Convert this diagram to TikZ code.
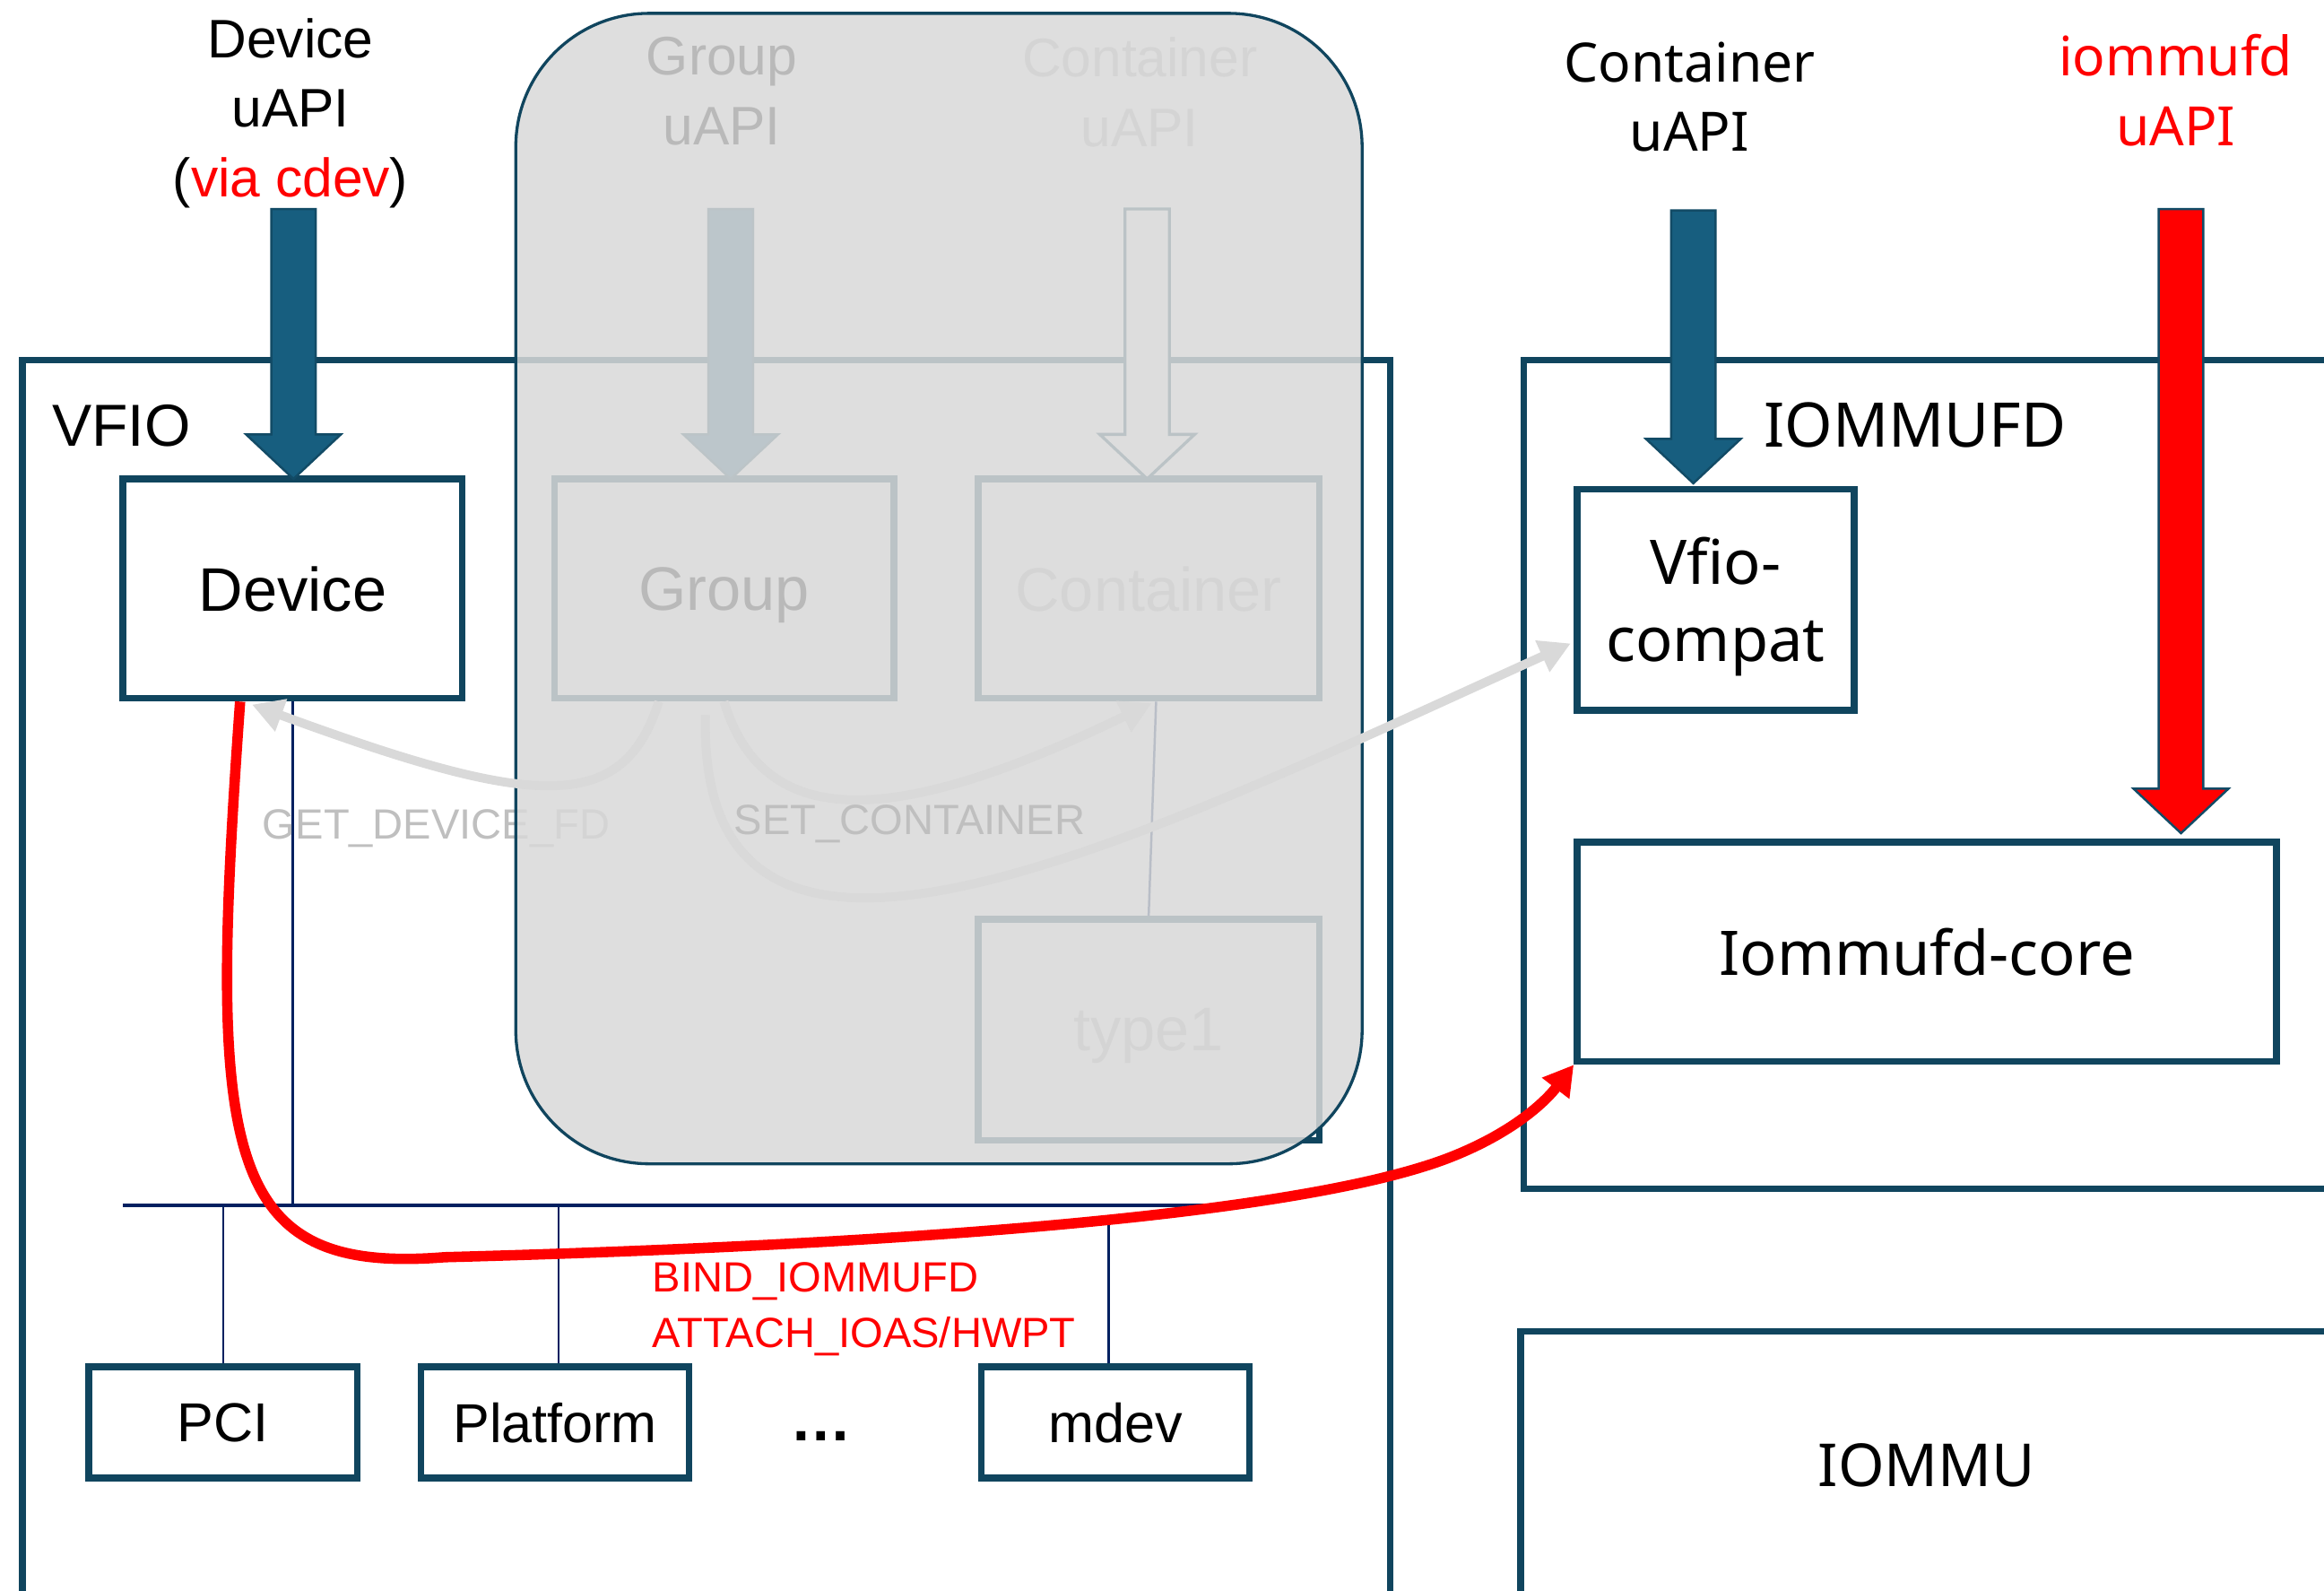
\documentclass[tikz,border=0pt]{standalone}
\usepackage{fontspec}
\setmainfont{Liberation Sans}
\newfontfamily\aptos{Noto Sans}
\usetikzlibrary{calc,arrows.meta}

\definecolor{vfioteal}{HTML}{10455E}
\definecolor{uapiteal}{HTML}{175E7F}
\definecolor{uapiedge}{HTML}{124B66}
\definecolor{busnavy}{HTML}{002060}
\definecolor{ioctlgrey}{HTML}{D9D9D9}
\definecolor{fadedtext}{HTML}{BFBFBF}
\definecolor{legacygrey}{HTML}{D8D8D8}

% font sizes (one picture unit is one pt)
\newcommand{\labelfont}{\fontsize{36.6}{47}\selectfont}
\newcommand{\boxfont}{\fontsize{41.5}{52}\selectfont}
\newcommand{\busfont}{\fontsize{37}{44}\selectfont}
\newcommand{\ioctlfont}{\fontsize{28.5}{38}\selectfont}

% fat uAPI arrow: [style]{x}{y top}{y head}{y tip}
\newcommand{\uapiarrow}[5][]{%
  \draw[#1] (#2-15,#3) -- (#2+15,#3) -- (#2+15,#4) -- (#2+32,#4)
    -- (#2,#5) -- (#2-32,#4) -- (#2-15,#4) -- cycle;
}

\tikzset{
  frame/.style={draw=vfioteal, line width=4.5pt},
  block/.style={draw=vfioteal, line width=4.5pt, fill=white, inner sep=0pt,
    align=center, text depth=0pt, font=\boxfont},
  smallblock/.style={block, minimum width=181pt, minimum height=75pt, font=\busfont},
  caption/.style={inner sep=0pt, align=center, font=\labelfont},
  bus/.style={draw=busnavy, line width=2pt},
  drop/.style={draw=busnavy, line width=1.5pt},
  uapi/.style={fill=uapiteal, draw=uapiedge, line width=1.5pt},
  ioctl/.style={draw=ioctlgrey, line width=6pt, -{Triangle[length=21pt,width=22pt]}},
  bindpath/.style={draw=red, line width=7pt, -{Triangle[length=20pt,width=22pt]}},
}

\begin{document}
\begin{tikzpicture}[x=1pt,y=-1pt]
\useasboundingbox (0,0) rectangle (1568,1073);
\clip (0,0) rectangle (1568,1073);

% --- outer frames ---
\draw[frame] (15,243) rectangle (938,1100);
\node[anchor=west, inner sep=0pt, font=\fontsize{40}{48}\selectfont] (vfio) at (35,287) {VFIO};
\draw[frame] (1028,243) rectangle (1600,802);
\node[anchor=west, inner sep=0pt, font=\aptos\fontsize{41.5}{50}\selectfont] (iommufd) at (1190,287) {IOMMUFD};
\node[block, font=\aptos\fontsize{40}{48}\selectfont, minimum width=548pt,
  minimum height=180pt] (iommu) at (1300,988) {IOMMU};

% --- VFIO: device and the bus drivers ---
\node[block, minimum width=229pt, minimum height=148pt] (dev) at (197.5,397) {Device};

\coordinate (busL) at (83,813);
\coordinate (busR) at (830,813);
\draw[bus] (busL) -- (busR);
\node[smallblock] (pci) at (150.5,959.5) {PCI};
\node[smallblock] (plat) at (374.5,959.5) {Platform};
\node[smallblock] (mdev) at (752.5,959.5) {mdev};
\node[anchor=base, font=\bfseries\boxfont] (more) at (554,972) {…};

\coordinate (plattop) at ($(plat.north)+(2.5,0)$);
\coordinate (mdevtop) at ($(mdev.north)+(-4.5,0)$);
\draw[drop] (dev.south) -- (dev.south |- busL);
\draw[drop] (pci.north) -- (pci.north |- busL);
\draw[drop] (plattop) -- (plattop |- busL);
\draw[drop] (mdevtop) -- ($(mdevtop |- busL)+(0,8)$);

% --- legacy group / container path ---
\node[block, minimum width=229pt, minimum height=148pt] (grp) at (488.5,397) {Group};
\node[block, minimum width=230pt, minimum height=148pt, text=fadedtext] (cont) at (775,397) {Container};
\node[block, minimum width=230pt, minimum height=149pt, text=fadedtext] (type1) at (775,694.5) {type1};
\draw[drop] ($(cont.south)+(5,0)$) -- (type1.north);

\node[caption, anchor=north] (grpapi) at (487,25) {Group\\uAPI};
\node[caption, anchor=north, text=fadedtext] (contapi) at (769,25) {Container\\uAPI};
\uapiarrow[uapi]{493}{141}{293}{323}
\uapiarrow[draw=vfioteal, fill=white, line width=2pt]{774}{141}{293}{323}
\node[anchor=base west, inner sep=0pt, font=\ioctlfont, text=fadedtext] (getfd) at (177,566) {GET\_DEVICE\_FD};

% faded cover over the legacy path
\draw[draw=vfioteal, line width=2pt, fill=legacygrey, fill opacity=0.86,
  rounded corners=90pt] (348,9) rectangle (919,785);

% --- device uAPI ---
\node[caption, anchor=north] (devapi) at (196,12) {Device\\uAPI\\(\textcolor{red}{via cdev})};
\uapiarrow[uapi]{198}{141}{293}{323}

% --- IOMMUFD ---
\node[block, font=\aptos\boxfont, minimum width=187pt, minimum height=149pt] (compat) at (1157.5,404.5) {Vfio-\\compat};
\node[block, font=\aptos\boxfont, minimum width=472pt, minimum height=148pt] (core) at (1300,642) {Iommufd-core};

\node[caption, anchor=north, font=\aptos\labelfont] (contapi2) at (1140,28) {Container\\uAPI};
\uapiarrow[uapi]{1142.5}{142}{296}{326}
\node[caption, anchor=north, font=\aptos\labelfont, text=red] (ioapi) at (1468,23) {iommufd\\uAPI};
\uapiarrow[fill=red, draw=uapiedge, line width=1.5pt]{1471.5}{141}{532}{562}

% --- old ioctl flow ---
\draw[ioctl] ($(grp.south)+(-44,0)$) .. controls (420,550) and (360,545) .. ($(dev.south)+(-27.5,2)$);
\draw[ioctl] (grp.south) .. controls (515,560) and (600,560) .. ($(cont.south)+(2,1)$);
\draw[ioctl] ($(grp.south)+(-12.5,9)$) .. controls (470,715) and (760,570) .. ($(compat.west)+(-2,29.5)$);
\node[anchor=base west, inner sep=0pt, font=\ioctlfont, text=fadedtext] (setc) at (495,563) {SET\_CONTAINER};

% --- cdev binding ---
\draw[bindpath] ($(dev.south)+(-35.5,0)$) .. controls (140,780) and (150,860) .. (300,848)
  .. controls (600,840) and (880,820) .. (980,780)
  .. controls (1025,762) and (1045,740) .. (core.south west);
\node[anchor=north west, align=left, inner sep=0pt, font=\ioctlfont, text=red] (bindlbl) at (440,851)
  {BIND\_IOMMUFD\\ATTACH\_IOAS/HWPT};

\end{tikzpicture}
\end{document}
